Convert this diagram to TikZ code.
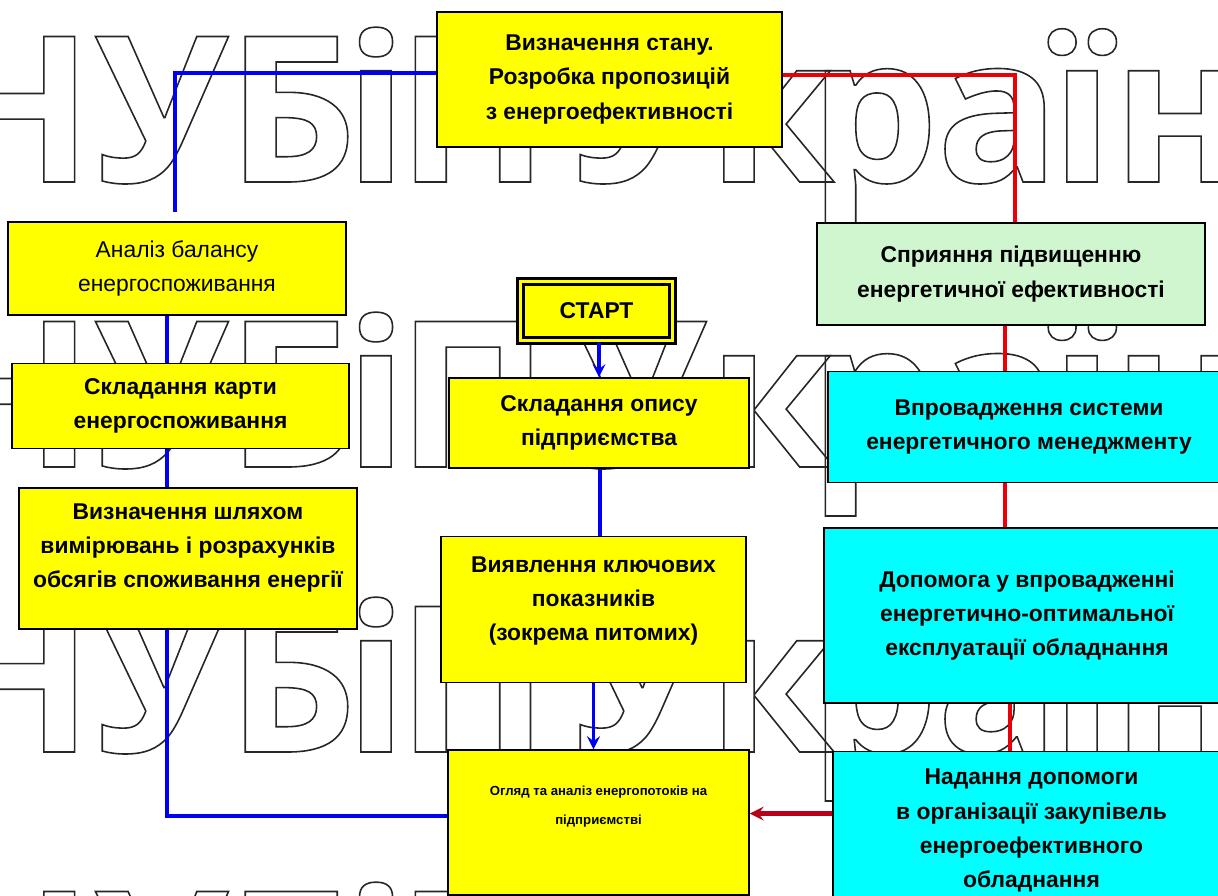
\documentclass[tikz,border=0pt]{standalone}
\usepackage{fontspec}
\setmainfont{Liberation Sans}
\newfontfamily\markfont{Open Sans}
\usepackage{xcolor}
\usetikzlibrary{arrows,positioning}

\definecolor{boxyellow}{RGB}{255,255,0}
\definecolor{boxcyan}{RGB}{0,255,255}
\definecolor{boxgreen}{RGB}{208,246,208}
\definecolor{lineblue}{RGB}{0,0,245}
\definecolor{linered}{RGB}{235,0,10}
\definecolor{arrowred}{RGB}{185,0,25}

% outlined watermark letters
\newcommand{\outlined}[1]{\special{pdf:literal direct 1 Tr 0.9 w}#1\special{pdf:literal direct 0 Tr}}

\begin{document}
\begin{tikzpicture}[
    x=0.02cm, y=-0.02cm,
    box/.style={rectangle, draw=black, line width=0.9pt, align=center, inner sep=2pt, font=\bfseries\fontsize{13}{19.5}\selectfont},
    yellowbox/.style={box, fill=boxyellow},
    cyanbox/.style={box, fill=boxcyan},
    greenbox/.style={box, fill=boxgreen},
    wmark/.style={anchor=base, inner sep=0pt, text=black!85, font=\markfont\bfseries\fontsize{116}{116}\selectfont},
    blueline/.style={draw=lineblue, line width=2.2pt},
    bluearrow/.style={blueline, ->, >=stealth},
    redline/.style={draw=linered, line width=1.8pt},
    redarrow/.style={draw=arrowred, line width=2.4pt, ->, >=stealth}
]
\useasboundingbox (0,0) rectangle (1218,896);
\clip (0,0) rectangle (1218,896);

% Watermark
\foreach \wy in {182,467,752,1037}
  \foreach \wx/\wl in {15/Н,162/У,292/Б,376/і,473/П,640/У,771/к,874/р,998/а,1082/ї,1180/н}
    \node[wmark] at (\wx,\wy) {\outlined{\wl}};

% Top
\node[yellowbox, minimum width=6.9cm, minimum height=2.7cm] (top) at (609.5,79.5) {Визначення стану.\\Розробка пропозицій\\з енергоефективності};

% Left column
\node[yellowbox, font=\fontsize{13}{19.5}\selectfont, minimum width=6.76cm, minimum height=1.86cm] (analiz) at (177,268.5) {Аналіз балансу\\енергоспоживання};
\node[yellowbox, minimum width=6.74cm, minimum height=1.7cm, below=0.94cm of analiz, xshift=0.07cm] (karta) {Складання карти\\енергоспоживання};
\node[yellowbox, minimum width=6.76cm, minimum height=2.82cm, below=0.76cm of karta, xshift=0.15cm] (vyzn) {Визначення шляхом\\вимірювань і розрахунків\\обсягів споживання енергії\\[-4.5pt]\mbox{}};

% Middle column
\node[yellowbox, double=boxyellow, line width=1.4pt, double distance=1.8pt, minimum width=3.04cm, minimum height=1.18cm] (start) at (596.5,311) {СТАРТ};
\node[yellowbox, minimum width=6cm, minimum height=1.8cm] (opys) at (599,423) {Складання опису\\підприємства};
\node[yellowbox, minimum width=6.1cm, minimum height=2.92cm, below=1.34cm of opys, xshift=-0.11cm] (klyuch) {Виявлення ключових\\показників\\(зокрема питомих)\\[-7pt]\mbox{}};
\node[yellowbox, font=\bfseries\fontsize{7.5}{16.5}\selectfont, minimum width=6.02cm, minimum height=2.9cm, below=1.32cm of klyuch, xshift=0.1cm] (ohlyad) {Огляд та аналіз енергопотоків на\\підприємстві\\[3pt]\mbox{}};

% Right column
\node[greenbox, minimum width=7.76cm, minimum height=2.04cm] (spryyannya) at (1011,274) {Сприяння підвищенню\\енергетичної ефективності};
\node[cyanbox, minimum width=8.04cm, minimum height=2.22cm, below=0.9cm of spryyannya, xshift=0.36cm] (menedzh) {Впровадження системи\\енергетичного менеджменту};
\node[cyanbox, minimum width=8.12cm, minimum height=3.5cm, below=0.88cm of menedzh, xshift=-0.04cm] (dopomoha) {Допомога у впровадженні\\енергетично-оптимальної\\експлуатації обладнання};
\node[cyanbox, minimum width=7.94cm, minimum height=3.16cm, below=0.94cm of dopomoha, xshift=0.09cm] (zakupivli) {Надання допомоги\\в організації закупівель\\енергоефективного\\обладнання};

% Blue links
\draw[blueline] ([yshift=0.13cm]top.west) -| ([xshift=-0.04cm,yshift=0.18cm]analiz.north);
\draw[blueline] ([xshift=-0.2cm]analiz.south) -- ([xshift=-0.2cm]analiz.south |- karta.north);
\draw[blueline] ([xshift=-0.27cm]karta.south) -- ([xshift=-0.27cm]karta.south |- vyzn.north);
\draw[blueline] ([xshift=-0.42cm]vyzn.south) |- ([yshift=0.13cm]ohlyad.west);
\draw[bluearrow] ([xshift=0.05cm]start.south) -- ([xshift=0.05cm]start.south |- opys.north);
\draw[blueline] ([xshift=0.02cm]opys.south) -- ([xshift=0.02cm]opys.south |- klyuch.north);
\draw[bluearrow] (klyuch.south) -- (klyuch.south |- ohlyad.north);

% Red links
\draw[redline] ([yshift=0.09cm]top.east) -| ([xshift=0.08cm]spryyannya.north);
\draw[redline] ([xshift=-0.12cm]spryyannya.south) -- ([xshift=-0.12cm]spryyannya.south |- menedzh.north);
\draw[redline] ([xshift=-0.48cm]menedzh.south) -- ([xshift=-0.48cm]menedzh.south |- dopomoha.north);
\draw[redline] ([xshift=-0.34cm]dopomoha.south) -- ([xshift=-0.34cm]dopomoha.south |- zakupivli.north);
\draw[redarrow] ([yshift=0.18cm]ohlyad.east -| zakupivli.west) -- ([yshift=0.18cm]ohlyad.east);

\end{tikzpicture}
\end{document}
